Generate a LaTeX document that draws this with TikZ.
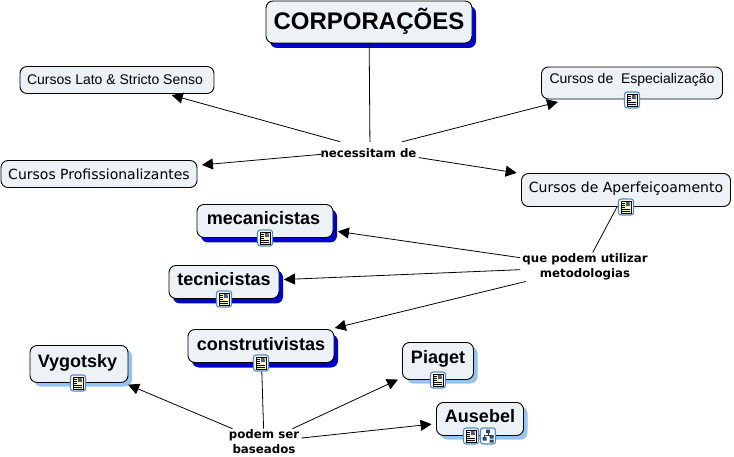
\documentclass[tikz,border=0pt]{standalone}
\usepackage{fontspec}
\setmainfont{Liberation Sans}
\newfontfamily\verdanafont{DejaVu Sans}
\usetikzlibrary{shadows,arrows.meta}
\definecolor{boxfill}{RGB}{236,242,246}
\definecolor{darkshadow}{RGB}{0,0,205}
\definecolor{lightshadow}{RGB}{150,195,240}
\definecolor{iconblue}{RGB}{85,135,205}
\definecolor{iconpage}{RGB}{250,245,190}
\tikzset{
  concept/.style={draw=black, fill=boxfill, rounded corners=7pt, line width=0.9pt, inner sep=0pt},
  plain/.style={concept, font=\fontsize{14}{16}\selectfont},
  plainwide/.style={concept, font=\verdanafont\fontsize{14}{16}\selectfont},
  heavy/.style={concept, font=\fontsize{18}{20}\selectfont\bfseries, text height=13pt, text depth=5pt, drop shadow={shadow xshift=4pt, shadow yshift=-5pt, fill=darkshadow, opacity=1}},
  lightheavy/.style={concept, font=\fontsize{18}{20}\selectfont\bfseries, text height=13pt, drop shadow={shadow xshift=4pt, shadow yshift=-4pt, fill=lightshadow, opacity=1}},
  phrase/.style={fill=white, inner xsep=2pt, inner ysep=1pt, align=center, font=\verdanafont\fontsize{11.8}{15}\selectfont\bfseries},
  link/.style={draw=black, line width=0.8pt, shorten >=4.5pt, -{Triangle[length=11pt,width=11pt]}},
  plainlink/.style={draw=black, line width=0.8pt},
  noteicon/.pic={
    \draw[draw=iconblue, fill=white, rounded corners=2.5pt, line width=1.1pt] (-7.5,-8) rectangle (7.5,8);
    \draw[draw=black, fill=iconpage, line width=0.7pt] (-5,-6) rectangle (5,6);
    \fill[iconblue!70!black] (0,-5.3) rectangle (4.3,-1);
    \fill[orange] (2.5,-4.8) rectangle (4,-3.4);
    \foreach \ly in {-4,-2,0} \draw[line width=0.7pt] (-4,\ly) -- (-1,\ly);
    \foreach \ly in {2,4} \draw[line width=0.7pt] (-4,\ly) -- (4,\ly);
  },
  mapicon/.pic={
    \draw[draw=iconblue, fill=white, rounded corners=2.5pt, line width=1.1pt] (-7.5,-8) rectangle (7.5,8);
    \draw[draw=iconblue!50!black, line width=0.7pt] (0,-4) -- (0,-1) (-3.5,2) -- (-3.5,-1) -- (3.5,-1) -- (3.5,2);
    \fill[iconblue!50!black] (-2,-6.5) rectangle (2,-3) (-5.5,1) rectangle (-1.5,4.5) (1.5,-1) rectangle (5.5,2.5) (1.5,3.5) rectangle (5.5,6.5);
  }
}
\begin{document}
\begin{tikzpicture}[x=1pt, y=-1pt]
  \useasboundingbox (0,0) rectangle (734,457);
  % concepts
  \node[heavy, minimum width=206pt, minimum height=42pt, text height=18pt, text depth=3pt] (corporacoes) at (369,22) {\fontsize{24}{28}\selectfont CORPORAÇÕES};
  \node[plain, minimum width=194pt, minimum height=27pt, text height=10pt, text depth=0pt] (lato) at (117,80) {Cursos Lato \& Stricto Senso\hspace*{4pt}};
  \node[plain, minimum width=181pt, minimum height=32pt, text height=10pt, text depth=8pt] (especializacao) at (632,83) {Cursos de\ \ Especialização};
  \node[plainwide, minimum width=196pt, minimum height=27pt, text height=12pt, text depth=0pt] (profissionalizantes) at (99,174) {Cursos Profissionalizantes};
  \node[plainwide, minimum width=209pt, minimum height=33pt, text height=10pt, text depth=5pt] (aperfeicoamento) at (626,190) {Cursos de Aperfeiçoamento};
  \node[heavy, minimum width=136pt, minimum height=33pt] (mecanicistas) at (265,221) {mecanicistas\hspace*{3pt}};
  \node[heavy, minimum width=110pt, minimum height=33pt] (tecnicistas) at (224,282) {tecnicistas};
  \node[heavy, minimum width=146pt, minimum height=33pt] (construtivistas) at (261,346) {construtivistas};
  \node[lightheavy, minimum width=98pt, minimum height=37pt, text depth=6.4pt] (vygotsky) at (79,364) {Vygotsky\hspace*{3pt}};
  \node[lightheavy, minimum width=71pt, minimum height=37pt, text depth=9pt] (piaget) at (438,361) {Piaget};
  \node[lightheavy, minimum width=87pt, minimum height=33pt, text depth=5.6pt] (ausebel) at (480,419) {Ausebel};
  % linking phrases
  \node[phrase, minimum width=97pt, minimum height=16pt] (necessitam) at (370,150) {\hspace*{-3pt}\raisebox{-8pt}[0pt][0pt]{\makebox[0pt]{necessitam de}}};
  \node[phrase] (utilizar) at (585,267) {que podem utilizar\\metodologias};
  \node[phrase] (baseados) at (264,442) {podem ser\\baseados};
  % connectors
  \draw[plainlink] (corporacoes) -- (necessitam);
  \draw[link] (necessitam) -- (lato);
  \draw[link, shorten >=10pt] (necessitam) -- (especializacao);
  \draw[link] (necessitam) -- (profissionalizantes);
  \draw[link] (necessitam) -- (aperfeicoamento);
  \draw[plainlink] (aperfeicoamento) -- (utilizar);
  \draw[link] (utilizar) -- (mecanicistas);
  \draw[link] (utilizar) -- (tecnicistas);
  \draw[link] (utilizar) -- (construtivistas);
  \draw[plainlink] (construtivistas) -- (baseados);
  \draw[link] (baseados) -- (vygotsky);
  \draw[link] (baseados) -- (piaget);
  \draw[link] (baseados) -- (ausebel);
  % icons
  \pic (iconespec) at (632,100) {noteicon};
  \pic (iconaperf) at (626,207) {noteicon};
  \pic (iconmec) at (265,238) {noteicon};
  \pic (icontec) at (224,299) {noteicon};
  \pic (iconcons) at (261,363) {noteicon};
  \pic (iconvyg) at (78,383) {noteicon};
  \pic (iconpia) at (438,380) {noteicon};
  \pic (iconaus) at (471,436) {noteicon};
  \pic (iconmap) at (488,436) {mapicon};
\end{tikzpicture}
\end{document}
